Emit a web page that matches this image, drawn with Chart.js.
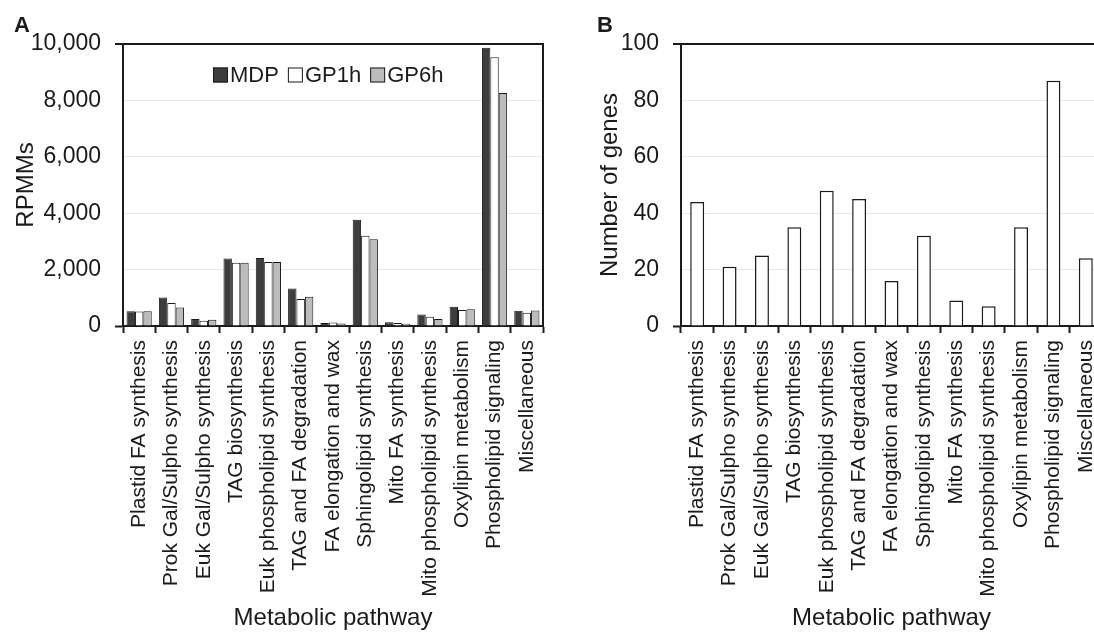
<!DOCTYPE html>
<html>
<head>
<meta charset="utf-8">
<script src="https://cdn.jsdelivr.net/npm/chart.js@4"></script>
<style>
  html, body { margin: 0; padding: 0; background: #fff; overflow: hidden; width: 1094px; height: 633px; }
  .panel { position: absolute; top: 0; width: 560px; height: 633px; }
  #panelA { left: 0; }
  #panelB { left: 560px; }
</style>
</head>
<body>
<div class="panel" id="panelA"><canvas id="chartA" width="560" height="633"></canvas></div>
<div class="panel" id="panelB"><canvas id="chartB" width="560" height="633"></canvas></div>
<script>
// --- Data ---
const pathways = [
  'Plastid FA synthesis', 'Prok Gal/Sulpho synthesis', 'Euk Gal/Sulpho synthesis',
  'TAG biosynthesis', 'Euk phospholipid synthesis', 'TAG and FA degradation',
  'FA elongation and wax', 'Sphingolipid synthesis', 'Mito FA synthesis',
  'Mito phospholipid synthesis', 'Oxylipin metabolism', 'Phospholipid signaling',
  'Miscellaneous'
];
const mdp  = [520, 1010, 250, 2390, 2410, 1330, 110, 3770, 130, 410, 680, 9870, 540];
const gp1h = [510, 820, 190, 2240, 2270, 960, 120, 3200, 110, 330, 570, 9530, 470];
const gp6h = [520, 660, 220, 2240, 2270, 1040, 90, 3080, 80, 250, 590, 8260, 550];
const geneCounts = [44, 21, 25, 35, 48, 45, 16, 32, 9, 7, 35, 87, 24];

const rpmmTicks = { min: 0, max: 10000, step: 2000 };
const geneTicks = { min: 0, max: 100, step: 20 };

const FONT = "'Liberation Sans', Arial, sans-serif";
const INK = '#1a1a1a';
const H = 633;

// --- frame + panel letter + legend drawn on top ---
const framePlugin = {
  id: 'frame',
  afterDraw(chart, args, opts) {
    const { ctx, chartArea: a } = chart;
    ctx.save();
    ctx.strokeStyle = INK;
    ctx.lineWidth = 2;
    ctx.beginPath();
    ctx.moveTo(a.left - 8, a.top);
    ctx.lineTo(a.right, a.top);
    if (opts.right) ctx.lineTo(a.right, a.bottom);
    ctx.stroke();

    ctx.fillStyle = INK;
    ctx.font = "bold 22px " + FONT;
    ctx.textBaseline = 'alphabetic';
    ctx.fillText(opts.letter, opts.letterX, 32);

    if (opts.legend) {
      ctx.font = "22px " + FONT;
      ctx.textBaseline = 'middle';
      let x = opts.legendX;
      const y = opts.legendY;
      chart.data.datasets.forEach(ds => {
        ctx.fillStyle = ds.backgroundColor;
        ctx.fillRect(x, y - 7.5, 15, 15);
        ctx.lineWidth = 1;
        ctx.strokeStyle = INK;
        ctx.strokeRect(x + 0.5, y - 7, 14, 14);
        ctx.fillStyle = INK;
        ctx.fillText(ds.label, x + 17, y + 1);
        x += 17 + ctx.measureText(ds.label).width + 9;
      });
    }
    ctx.restore();
  }
};

function buildOptions(cfg) {
  return {
    responsive: false,
    animation: false,
    layout: { padding: { top: 44, right: cfg.padRight, left: 0, bottom: 0 } },
    plugins: {
      legend: { display: false },
      tooltip: { enabled: false },
      frame: cfg.frame
    },
    scales: {
      x: {
        afterFit(scale) { scale.height = H - 326; },
        grid: {
          offset: true,
          drawOnChartArea: false,
          drawTicks: true,
          tickLength: 7,
          tickWidth: 2,
          tickColor: INK
        },
        border: { color: INK, width: 2 },
        ticks: {
          autoSkip: false,
          minRotation: 90,
          maxRotation: 90,
          padding: 7,
          color: INK,
          font: { family: FONT, size: 21 }
        },
        title: {
          display: true,
          text: 'Metabolic pathway',
          color: INK,
          font: { family: FONT, size: 24 },
          padding: { top: 0, bottom: 0 }
        }
      },
      y: {
        min: cfg.ticks.min,
        max: cfg.ticks.max,
        afterFit(scale) { scale.width = cfg.yWidth; },
        grid: {
          color: c => (c.tick && (c.tick.value === cfg.ticks.min || c.tick.value === cfg.ticks.max)) ? 'rgba(0,0,0,0)' : '#e8e8e8',
          tickColor: c => (c.tick && c.tick.value === cfg.ticks.min) ? INK : 'rgba(0,0,0,0)',
          tickLength: 8,
          tickWidth: 2,
          lineWidth: 1
        },
        border: { color: INK, width: 2 },
        ticks: {
          stepSize: cfg.ticks.step,
          padding: 14,
          color: INK,
          font: { family: FONT, size: 23 },
          callback: v => v.toLocaleString('en-US')
        },
        title: {
          display: true,
          text: cfg.yTitle,
          color: INK,
          font: { family: FONT, size: 24 },
          padding: { top: cfg.yTitlePad, bottom: 0 }
        }
      }
    }
  };
}

// --- Panel A: RPMMs per pathway ---
new Chart(document.getElementById('chartA'), {
  type: 'bar',
  data: {
    labels: pathways,
    datasets: [
      { label: 'MDP', data: mdp, backgroundColor: '#3d3d3d', borderColor: INK, borderWidth: 1,
        barPercentage: 1, categoryPercentage: 0.78 },
      { label: 'GP1h', data: gp1h, backgroundColor: '#ffffff', borderColor: INK, borderWidth: 1,
        barPercentage: 1, categoryPercentage: 0.78 },
      { label: 'GP6h', data: gp6h, backgroundColor: '#bcbcbc', borderColor: INK, borderWidth: 1,
        barPercentage: 1, categoryPercentage: 0.78 }
    ]
  },
  options: buildOptions({
    ticks: rpmmTicks,
    yWidth: 123,
    padRight: 17,
    yTitle: 'RPMMs',
    yTitlePad: 12,
    frame: { letter: 'A', letterX: 14, right: true, legend: true, legendX: 213, legendY: 75 }
  }),
  plugins: [framePlugin]
});

// --- Panel B: number of genes per pathway ---
new Chart(document.getElementById('chartB'), {
  type: 'bar',
  data: {
    labels: pathways,
    datasets: [
      { label: 'Genes', data: geneCounts, backgroundColor: '#ffffff', borderColor: INK, borderWidth: 1.5,
        barPercentage: 1, categoryPercentage: 0.43 }
    ]
  },
  options: buildOptions({
    ticks: geneTicks,
    yWidth: 121,
    padRight: 18,
    yTitle: 'Number of genes',
    yTitlePad: 36,
    frame: { letter: 'B', letterX: 37, right: false, legend: false }
  }),
  plugins: [framePlugin]
});
</script>
</body>
</html>
